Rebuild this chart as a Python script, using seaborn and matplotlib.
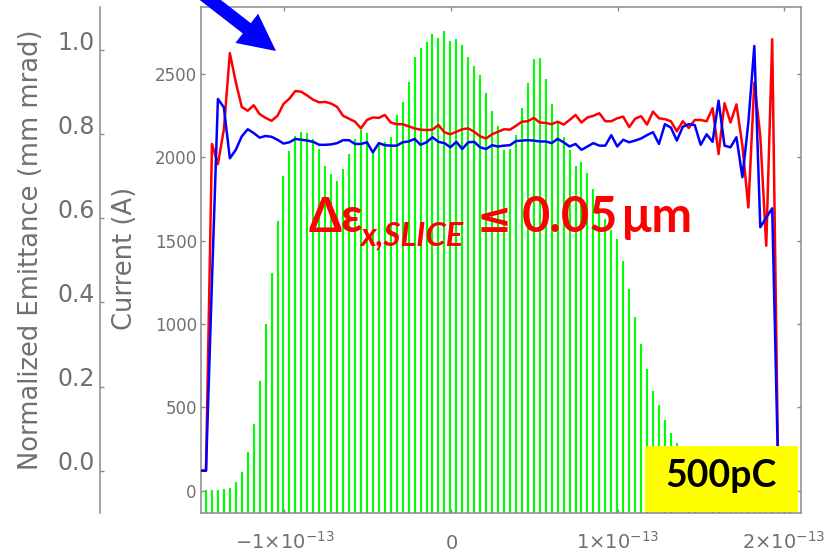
import numpy as np
import matplotlib
matplotlib.use("Agg")
import matplotlib.pyplot as plt
import seaborn as sns
from matplotlib.patches import FancyArrow, Rectangle
from matplotlib.transforms import ScaledTranslation

# ---------------- data ----------------
slice_t0 = -1.4706e-13      # time of first current slice (s)
slice_dt = 0.035774e-13     # slice spacing (s)

current = [3, 3, 4, 8, 18, 54, 114, 234, 400, 660,
           1000, 1308, 1620, 1888, 2040, 2128, 2150, 2144, 2108, 2048,
           1948, 1898, 1860, 1928, 2020, 2108, 2162, 2148, 2028, 2092,
           2092, 2124, 2254, 2334, 2454, 2600, 2658, 2692, 2740, 2718,
           2760, 2700, 2708, 2676, 2604, 2550, 2494, 2388, 2280, 2188,
           2044, 2050, 2133, 2294, 2448, 2588, 2598, 2468, 2320, 2208,
           2124, 2046, 1951, 1973, 1908, 1809, 1694, 1630, 1565, 1508,
           1378, 1208, 1040, 878, 730, 600, 512, 424, 348, 286,
           230, 185, 150, 120, 95, 75, 58, 45, 35, 27,
           20, 15, 11, 8, 6, 4, 3, 2, 2]

emit_red = [0.0, 0.0, 0.777, 0.729, 0.812, 0.993, 0.924, 0.865, 0.856, 0.869,
            0.848, 0.839, 0.832, 0.844, 0.872, 0.885, 0.903, 0.901, 0.892, 0.882,
            0.876, 0.877, 0.873, 0.865, 0.844, 0.837, 0.830, 0.814, 0.834, 0.840,
            0.839, 0.846, 0.828, 0.824, 0.824, 0.819, 0.814, 0.811, 0.810, 0.811,
            0.822, 0.805, 0.800, 0.806, 0.812, 0.814, 0.806, 0.795, 0.790, 0.800,
            0.806, 0.812, 0.811, 0.820, 0.830, 0.831, 0.839, 0.828, 0.827, 0.824,
            0.830, 0.823, 0.834, 0.846, 0.828, 0.840, 0.844, 0.850, 0.831, 0.831,
            0.838, 0.842, 0.817, 0.837, 0.843, 0.823, 0.854, 0.838, 0.836, 0.831,
            0.807, 0.831, 0.815, 0.834, 0.834, 0.831, 0.862, 0.753, 0.874, 0.828,
            0.871, 0.773, 0.626, 0.923, 0.796, 0.535, 1.026, 0.0]

emit_blue = [0.0, 0.0, 0.45, 0.884, 0.864, 0.743, 0.763, 0.795, 0.812, 0.803,
             0.792, 0.796, 0.794, 0.787, 0.778, 0.781, 0.789, 0.787, 0.785, 0.782,
             0.775, 0.775, 0.776, 0.779, 0.786, 0.786, 0.777, 0.777, 0.781, 0.757,
             0.779, 0.774, 0.773, 0.773, 0.781, 0.783, 0.789, 0.775, 0.781, 0.793,
             0.782, 0.779, 0.769, 0.782, 0.765, 0.781, 0.782, 0.769, 0.765, 0.774,
             0.771, 0.773, 0.774, 0.784, 0.785, 0.786, 0.785, 0.783, 0.783, 0.779,
             0.789, 0.781, 0.771, 0.777, 0.763, 0.771, 0.779, 0.773, 0.773, 0.798,
             0.771, 0.787, 0.781, 0.785, 0.790, 0.798, 0.805, 0.777, 0.824, 0.816,
             0.785, 0.818, 0.824, 0.822, 0.775, 0.800, 0.782, 0.880, 0.773, 0.769,
             0.793, 0.698, 0.828, 1.010, 0.579, 0.602, 0.624, 0.0]

emit_ticks = [0.0, 0.2, 0.4, 0.6, 0.8, 1.0]
emit_tick_labels = ["0.0", "0.2", "0.4", "0.6", "0.8", "1.0"]
current_ticks = [0, 500, 1000, 1500, 2000, 2500]
time_ticks = [-1e-13, 0.0, 1e-13, 2e-13]
time_tick_labels = [r"$-1{\times}10^{-13}$", r"$0$", r"$1{\times}10^{-13}$", r"$2{\times}10^{-13}$"]

t_bar = slice_t0 + slice_dt * np.arange(len(current))
t_line = slice_t0 - slice_dt + slice_dt * np.arange(len(emit_red))

# ---------------- style ----------------
GRAY = "#8a8a8a"
TXT = "#707070"
XLIM = (-1.5006e-13, 2.1008e-13)
CUR_LIM = (-134.0, 2902.0)
EMIT_LIM = (-0.1006, 1.1027)

plt.rcParams["font.family"] = ["DejaVu Sans"]

W, H = 837, 553
fig = plt.figure(figsize=(W / 100, H / 100), dpi=100)
fig.patch.set_facecolor("white")

ax = fig.add_axes([201 / W, 40 / H, 600 / W, 506 / H])
ax2 = ax.twinx()

# current bars (drawn from the bottom of the frame)
ax.vlines(t_bar, CUR_LIM[0], current, colors="#00ff00", linewidth=1.5, zorder=2)

# slice emittance lines
sns.lineplot(x=t_line, y=emit_red, ax=ax2, color="#ff0000", linewidth=1.8,
             legend=False, sort=False)
sns.lineplot(x=t_line, y=emit_blue, ax=ax2, color="#0000ff", linewidth=1.8,
             legend=False, sort=False)

ax.set_xlim(*XLIM)
ax.set_ylim(*CUR_LIM)
ax2.set_ylim(*EMIT_LIM)

for a in (ax, ax2):
    a.grid(False)
for s in ax.spines.values():
    s.set_color(GRAY)
    s.set_linewidth(1.1)

ax.set_xticks(time_ticks)
ax.set_xticklabels(time_tick_labels)
ax.set_yticks(current_ticks)
ax.set_yticklabels([str(v) for v in current_ticks])
ax.tick_params(axis="both", direction="in", length=3.2, width=1.0, color=GRAY,
               labelcolor=TXT)
ax.tick_params(axis="x", top=True, bottom=True, labelsize=14, pad=26)
ax.tick_params(axis="y", left=True, right=True, labelleft=True, labelright=False,
               labelsize=12, pad=3)
for lbl in ax.get_xticklabels():
    lbl.set_verticalalignment("baseline")

# emittance axis: detached spine on the far left
ax2.yaxis.tick_left()
ax2.yaxis.set_label_position("left")
ax2.spines["left"].set_position(("outward", 101 * 0.72))
ax2.spines["left"].set_color(GRAY)
ax2.spines["left"].set_linewidth(1.1)
for side in ("right", "top", "bottom"):
    ax2.spines[side].set_visible(False)
ax2.set_yticks(emit_ticks)
ax2.set_yticklabels(emit_tick_labels)
ax2.tick_params(axis="y", direction="in", length=3.2, width=1.0, color=GRAY,
                labelcolor=TXT, labelsize=17, pad=3.5, left=True, right=False)
offset = ScaledTranslation(0, 0.10, fig.dpi_scale_trans)
for lbl in ax2.get_yticklabels():
    lbl.set_transform(lbl.get_transform() + offset)

ax.set_xlabel("")
ax2.set_xlabel("")
ax.set_ylabel("Current (A)", fontsize=18.5, color=TXT)
ax.yaxis.set_label_coords(-0.105, 0.504)
ax2.set_ylabel("Normalized Emittance (mm mrad)", fontsize=18.5, color=TXT)
ax2.yaxis.set_label_coords(-0.262, 0.52)

# ---------------- overlay annotations (pixel coordinates) ----------------
ov = fig.add_axes([0, 0, 1, 1])
ov.set_xlim(0, W)
ov.set_ylim(H, 0)
ov.axis("off")
ov.set_zorder(10)

ov.add_patch(FancyArrow(189.1, -16.5, 86.9, 67.5, width=13, head_width=37,
                        head_length=37, length_includes_head=True,
                        color="#0000ff", linewidth=0))

ov.add_patch(Rectangle((645, 445.5), 153, 66.5, facecolor="#ffff00",
                       edgecolor="none"))
ov.text(721, 487, "500pC", ha="center", va="baseline", fontsize=27,
        fontweight="bold", color="black", family=["Lato", "DejaVu Sans"])

fam = ["Lato", "DejaVu Sans"]
ov.text(309, 232, "\u0394\u03b5", ha="left", va="baseline", fontsize=34,
        fontweight="bold", color="#ff0000", family=fam)
ov.text(360, 245, "x,SLICE", ha="left", va="baseline", fontsize=23.5,
        fontweight="bold", style="italic", color="#ff0000", family=fam)
ov.text(477, 232, "\u2264", ha="left", va="baseline", fontsize=30,
        fontweight="bold", color="#ff0000", family=["DejaVu Sans"])
ov.text(522, 232, "0.05", ha="left", va="baseline", fontsize=35,
        fontweight="bold", color="#ff0000", family=fam)
ov.text(622, 232, "\u03bcm", ha="left", va="baseline", fontsize=35,
        fontweight="bold", color="#ff0000", family=fam)

fig.savefig("out.png", dpi=100, facecolor="white")
